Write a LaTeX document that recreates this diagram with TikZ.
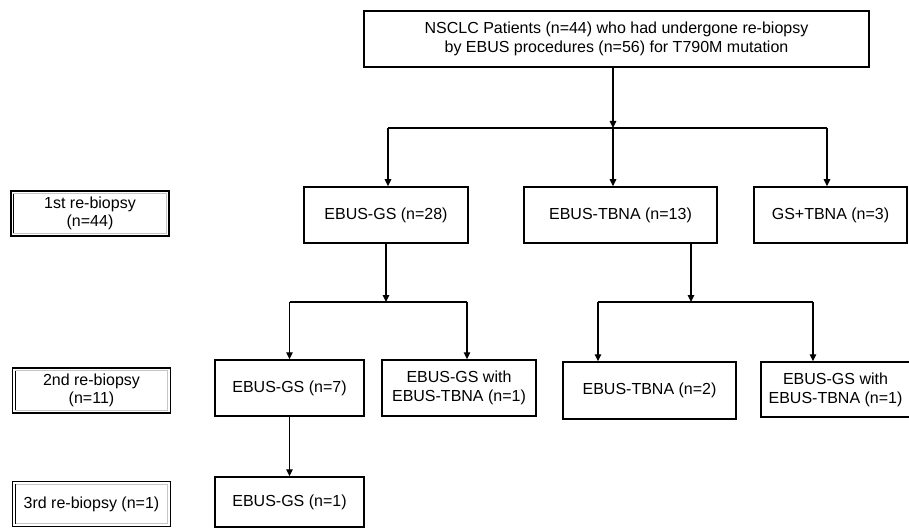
\documentclass[tikz,border=0pt]{standalone}
\usepackage{fontspec}
\setmainfont{Liberation Sans}
\usetikzlibrary{arrows.meta}

\begin{document}
\begin{tikzpicture}[x=1pt,y=-1pt]
\tikzset{font=\fontsize{16}{19}\selectfont}
\tikzset{box/.style={draw, line width=1.5pt, align=center, inner sep=0pt}}
\tikzset{levelbox/.style={draw, line width=1.4pt, align=center, inner sep=0pt, minimum width=158pt, minimum height=45pt, font=\fontsize{16}{18}\selectfont}}
\tikzset{link/.style={line width=1.4pt}}
\tikzset{arr/.style={link, -{Triangle[length=7pt,width=6.5pt]}}}
\useasboundingbox (0,0) rectangle (909,529);

% level labels
\node[levelbox] (levA) at (90,213.5) {1st re-biopsy\\(n=44)};
\node[levelbox] (levB) at (91.5,390.5) {2nd re-biopsy\\(n=11)};
\node[levelbox] (levC) at (91.5,504) {3rd re-biopsy (n=1)};
\foreach \lab in {levA,levB,levC} {
  \draw[gray!45, line width=0.7pt] ([shift={(3.5,3.5)}]\lab.north west) rectangle ([shift={(-3.5,-3.5)}]\lab.south east);
  \draw[line width=0.9pt] ([shift={(3.5,3.5)}]\lab.north west) -- ([shift={(3.5,-3.5)}]\lab.south west);
}

% boxes
\node[box, minimum width=505pt, minimum height=56pt] (patients) at (616.5,39) {NSCLC Patients (n=44) who had undergone re-biopsy\\by EBUS procedures (n=56) for T790M mutation};
\node[box, minimum width=164pt, minimum height=56pt] (gsA) at (386,215) {EBUS-GS (n=28)};
\node[box, minimum width=193pt, minimum height=56pt] (tbnaA) at (620.5,215) {EBUS-TBNA (n=13)};
\node[box, minimum width=153pt, minimum height=56pt] (mixA) at (830.5,215) {GS+TBNA (n=3)};
\node[box, minimum width=149pt, minimum height=56pt] (gsB) at (289.5,388) {EBUS-GS (n=7)};
\node[box, minimum width=154pt, minimum height=56pt] (gswB) at (459,388) {EBUS-GS with\\EBUS-TBNA (n=1)};
\node[box, minimum width=173pt, minimum height=57pt] (tbnaB) at (649.5,390.5) {EBUS-TBNA (n=2)};
\node[box, minimum width=149pt, minimum height=55pt] (tbnawB) at (835.5,389.5) {EBUS-GS with\\EBUS-TBNA (n=1)};
\node[box, minimum width=149pt, minimum height=50pt] (gsC) at (289.5,502) {EBUS-GS (n=1)};

% first split
\coordinate (splitA) at (613,128);
\coordinate (splitAl) at (388,128);
\coordinate (splitAr) at (827,128);
\draw[arr] (splitA |- patients.south) -- (splitA);
\draw[link] (splitAl) -- (splitAr);
\draw[arr] (splitAl) -- (splitAl |- gsA.north);
\draw[arr] (splitA) -- (splitA |- tbnaA.north);
\draw[arr] (splitAr) -- (splitAr |- mixA.north);

% split under EBUS-GS
\coordinate (splitB) at (386,302);
\coordinate (splitBl) at (289.5,302);
\coordinate (splitBr) at (467,302);
\draw[arr] (gsA.south) -- (splitB);
\draw[link] (splitBl) -- (splitBr);
\draw[arr] (splitBl) -- (splitBl |- gsB.north);
\draw[arr] (splitBr) -- (splitBr |- gswB.north);

% split under EBUS-TBNA
\coordinate (splitC) at (691,302);
\coordinate (splitCl) at (598,302);
\coordinate (splitCr) at (813,302);
\draw[arr] (splitC |- tbnaA.south) -- (splitC);
\draw[link] (splitCl) -- (splitCr);
\draw[arr] (splitCl) -- (splitCl |- tbnaB.north);
\draw[arr] (splitCr) -- (splitCr |- tbnawB.north);

% third re-biopsy
\draw[arr] (gsB.south) -- (gsC.north);
\end{tikzpicture}
\end{document}
